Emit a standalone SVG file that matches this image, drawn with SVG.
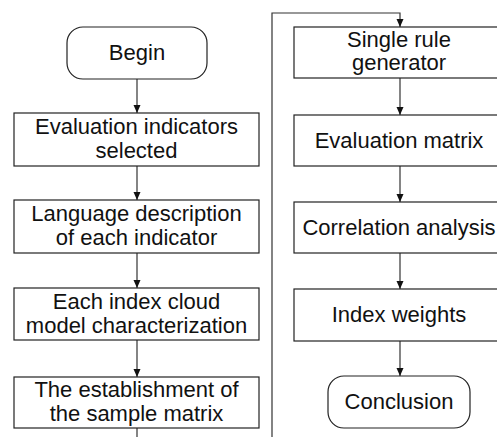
<svg xmlns="http://www.w3.org/2000/svg" width="497" height="437" viewBox="0 0 497 437">
<style>
.box{fill:#fff;stroke:#222;stroke-width:1.2}
.t{font-family:"Liberation Sans",Arial,sans-serif;font-size:22px;fill:#111;text-anchor:middle}
.c{fill:none;stroke:#333;stroke-width:1.2}
</style>
<defs>
<marker id="ah" viewBox="0 0 8 10" refX="8" refY="5" markerWidth="8" markerHeight="10" markerUnits="userSpaceOnUse" orient="auto">
<path d="M0,1.5 L8,5 L0,8.5 z" fill="#111"/>
</marker>
</defs>
<rect width="497" height="437" fill="#fff"/>
<g id="connectors">
<line class="c" x1="137" y1="79" x2="137" y2="113" marker-end="url(#ah)"/>
<line class="c" x1="137" y1="166" x2="137" y2="200" marker-end="url(#ah)"/>
<line class="c" x1="137" y1="253" x2="137" y2="288" marker-end="url(#ah)"/>
<line class="c" x1="137" y1="340" x2="137" y2="377" marker-end="url(#ah)"/>
<line class="c" x1="137" y1="428" x2="137" y2="437"/>
<polyline class="c" points="272,437 272,13 400,13 400,27" marker-end="url(#ah)"/>
<line class="c" x1="400" y1="78" x2="400" y2="115" marker-end="url(#ah)"/>
<line class="c" x1="400" y1="166" x2="400" y2="202" marker-end="url(#ah)"/>
<line class="c" x1="400" y1="253" x2="400" y2="289" marker-end="url(#ah)"/>
<line class="c" x1="400" y1="341" x2="400" y2="376" marker-end="url(#ah)"/>
</g>
<g id="begin">
<rect class="box" x="67" y="27" width="140" height="52" rx="16"/>
<text class="t" x="137" y="60">Begin</text>
</g>
<g id="evaluation-indicators">
<rect class="box" x="14" y="113" width="245" height="53"/>
<text class="t" x="136.5" y="134">Evaluation indicators</text>
<text class="t" x="136.5" y="158">selected</text>
</g>
<g id="language-description">
<rect class="box" x="14" y="200" width="245" height="53"/>
<text class="t" x="136.5" y="221">Language description</text>
<text class="t" x="136.5" y="245">of each indicator</text>
</g>
<g id="cloud-model">
<rect class="box" x="14" y="288" width="245" height="52"/>
<text class="t" x="136.5" y="309">Each index cloud</text>
<text class="t" x="136.5" y="333">model characterization</text>
</g>
<g id="sample-matrix">
<rect class="box" x="14" y="377" width="245" height="51"/>
<text class="t" x="136.5" y="397">The establishment of</text>
<text class="t" x="136.5" y="421">the sample matrix</text>
</g>
<g id="single-rule-generator">
<rect class="box" x="294" y="27" width="212" height="51"/>
<text class="t" x="399" y="47">Single rule</text>
<text class="t" x="399" y="70">generator</text>
</g>
<g id="evaluation-matrix">
<rect class="box" x="294" y="115" width="212" height="51"/>
<text class="t" x="399" y="148">Evaluation matrix</text>
</g>
<g id="correlation-analysis">
<rect class="box" x="294" y="202" width="212" height="51"/>
<text class="t" x="399" y="235">Correlation analysis</text>
</g>
<g id="index-weights">
<rect class="box" x="294" y="289" width="212" height="52"/>
<text class="t" x="399" y="322">Index weights</text>
</g>
<g id="conclusion">
<rect class="box" x="328" y="376" width="142" height="52" rx="16"/>
<text class="t" x="399" y="409">Conclusion</text>
</g>
</svg>
